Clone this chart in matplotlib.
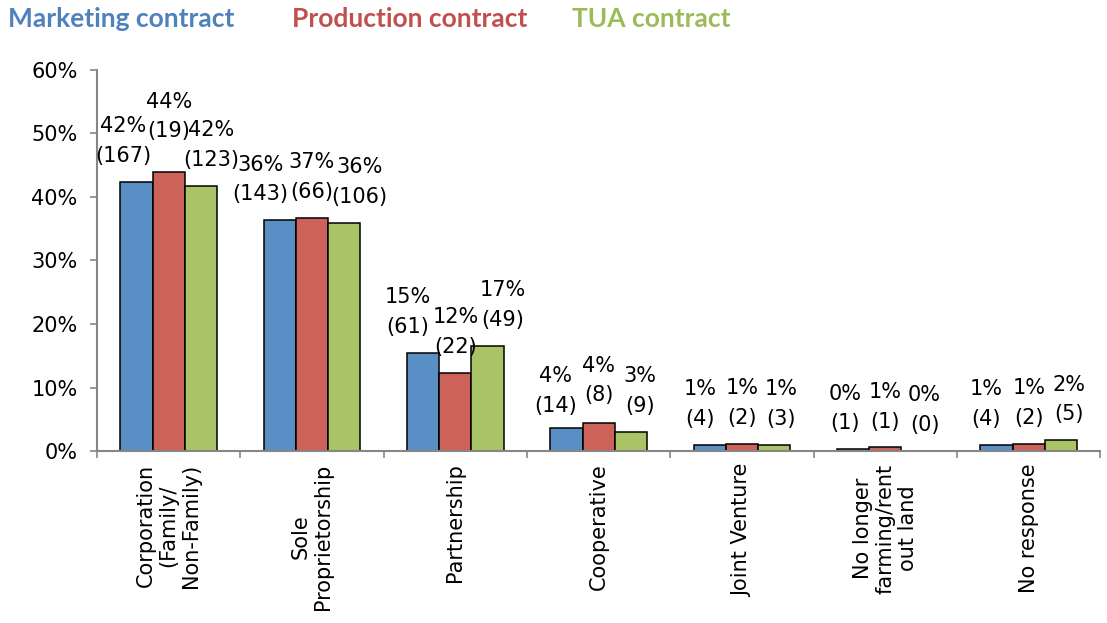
import matplotlib.pyplot as plt
import numpy as np

# farm business structure by contract type
categories = ['Corporation\n(Family/\nNon-Family)', 'Sole\nProprietorship', 'Partnership',
              'Cooperative', 'Joint Venture', 'No longer\nfarming/rent\nout land', 'No response']
series = ['Marketing contract', 'Production contract', 'TUA contract']

marketing_pct = [42.4, 36.3, 15.48, 3.55, 1.0, 0.25, 1.0]
production_pct = [43.9, 36.7, 12.3, 4.4, 1.1, 0.56, 1.1]
tua_pct = [41.7, 35.9, 16.6, 3.05, 1.02, 0.0, 1.69]

marketing_n = [167, 143, 61, 14, 4, 1, 4]
production_n = [19, 66, 22, 8, 2, 1, 2]
tua_n = [123, 106, 49, 9, 3, 0, 5]

bar_colors = ['#5A8FC6', '#CC6259', '#A8C466']
text_colors = ['#4F81BD', '#C0504D', '#9BBB59']

# label nudges in pixels (x, y) so the stacked labels don't collide
nudge_x = [[-13, -19, -15, -11, -10, -8, -10],
           [0, 0, 0, 0, 0, 0, 0],
           [10, 15, 15, 9, 7, 7, 8]]
nudge_y = [[0, 0, 0, -3, 0, 0, 0],
           [15, 0, 0, 2, 0, 0, 0],
           [0, 0, 0, 0, 0, 0, 0]]

fig = plt.figure(figsize=(11.07, 6.23), dpi=100)
ax = fig.add_axes([0.0876, 0.276, 0.9064, 0.612])

x = np.arange(len(categories))
w = 0.225
pcts = [marketing_pct, production_pct, tua_pct]
counts = [marketing_n, production_n, tua_n]

for i in range(3):
    xs = x + (i - 1) * w
    ax.bar(xs, pcts[i], w, color=bar_colors[i], edgecolor='black', linewidth=1.1)
    for j in range(len(categories)):
        ax.annotate('%.0f%%\n(%d)' % (pcts[i][j], counts[i][j]),
                    xy=(xs[j], pcts[i][j]),
                    xytext=(nudge_x[i][j] * 0.72, 11.5 + nudge_y[i][j] * 0.72),
                    textcoords='offset points', ha='center', va='bottom',
                    fontsize=15, linespacing=1.6)

ax.set_xlim(-0.5, len(categories) - 0.5)
ax.set_ylim(0, 60)
ax.set_yticks(range(0, 61, 10))
ax.set_yticklabels(['%d%%' % v for v in range(0, 61, 10)], fontsize=15)
ax.set_xticks(x)
ax.set_xticklabels(categories, rotation=90, fontsize=15, linespacing=1.15,
                   ha='center', va='top')
ax.set_xticks(np.arange(-0.5, len(categories)), minor=True)
ax.tick_params(axis='x', which='major', length=0, pad=9)
ax.tick_params(axis='x', which='minor', length=5, color='#868686', width=1.2)
ax.tick_params(axis='y', length=5, color='#868686', width=1.2, pad=9)

for s in ['top', 'right']:
    ax.spines[s].set_visible(False)
for s in ['left', 'bottom']:
    ax.spines[s].set_color('#868686')
    ax.spines[s].set_linewidth(1.5)

# series names across the top
legend_x = [0.007, 0.264, 0.517]
for name, c, lx in zip(series, text_colors, legend_x):
    fig.text(lx, 0.97, name, color=c, fontsize=19, fontweight='bold',
             family='Lato', va='center', ha='left')

fig.savefig('out.png', dpi=100)
